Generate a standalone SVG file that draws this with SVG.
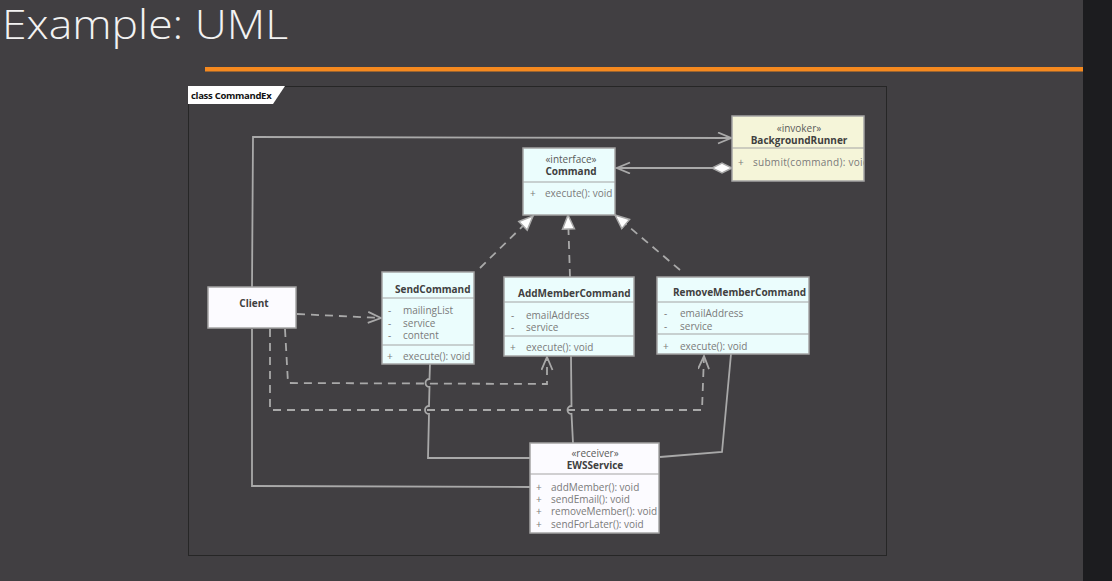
<svg xmlns="http://www.w3.org/2000/svg" width="1112" height="581" viewBox="0 0 1112 581">
<style>
.t{font-family:"Open Sans","Noto Sans","Liberation Sans",sans-serif;font-size:10px;fill:#7a7a7a}
.b{font-family:"Open Sans","Noto Sans","Liberation Sans",sans-serif;font-size:10px;font-weight:bold;fill:#404040}
.s{font-family:"Open Sans","Noto Sans","Liberation Sans",sans-serif;font-size:10px;fill:#5a5a5a}
.box{stroke:#a4a4a4;stroke-width:1.5}
.cyan{fill:#ebfdfd}
.sep{stroke:#a4a4a4;stroke-width:1.2}
.ln{fill:none;stroke:#a9a9a9;stroke-width:1.8}
.ds{fill:none;stroke:#a9a9a9;stroke-width:1.8;stroke-dasharray:8,6}
</style>
<defs>
<marker id="open" markerUnits="userSpaceOnUse" markerWidth="16" markerHeight="14" refX="14" refY="6" orient="auto">
<path d="M1,0.5 L14,6 L1,11.5" fill="none" stroke="#a9a9a9" stroke-width="1.8"/>
</marker>
<marker id="tri" markerUnits="userSpaceOnUse" markerWidth="18" markerHeight="16" refX="15" refY="7" orient="auto">
<path d="M1,1 L15,7 L1,13 z" fill="#ffffff" stroke="#a9a9a9" stroke-width="1.5"/>
</marker>
<marker id="dia" markerUnits="userSpaceOnUse" markerWidth="24" markerHeight="14" refX="1" refY="6" orient="auto">
<path d="M1,6 L11,1 L21,6 L11,11 z" fill="#ffffff" stroke="#a9a9a9" stroke-width="1.5"/>
</marker>
<clipPath id="cCmd"><rect x="523" y="148" width="92" height="67"/></clipPath>
<clipPath id="cBR"><rect x="732" y="116" width="132" height="65"/></clipPath>
<clipPath id="cEWS"><rect x="530" y="443" width="129" height="91"/></clipPath>
</defs>
<rect width="1112" height="581" fill="#413f42"/>
<rect x="1083" y="0" width="29" height="581" fill="#1c1c1f"/>
<text x="2" y="39" font-family="'Open Sans','Noto Sans',sans-serif" font-size="40" font-weight="300" fill="#f2f2f2" textLength="286" lengthAdjust="spacingAndGlyphs">Example: UML</text>
<rect x="205" y="67" width="878" height="4.5" fill="#f5891f"/>
<g id="frame">
<rect x="188.5" y="86.5" width="698" height="469" fill="none" stroke="#262626" stroke-width="1"/>
<polygon points="188,86 285,86 273,104 188,104" fill="#ffffff"/>
<text x="191" y="99" font-family="'Open Sans','Noto Sans',sans-serif" font-size="9.5" font-weight="bold" fill="#111" letter-spacing="-0.3">class CommandEx</text>
</g>
<g id="connectors">
<path class="ln" d="M252,287 L253,137 L731,138" marker-end="url(#open)"/>
<path class="ln" d="M732,168 L617,168" marker-start="url(#dia)" marker-end="url(#open)"/>
<path class="ds" d="M480,268 L533,216" marker-end="url(#tri)"/>
<path class="ds" d="M570,277 L568,215" marker-end="url(#tri)"/>
<path class="ds" d="M680,270 L615,215" marker-end="url(#tri)"/>
<path class="ds" d="M297,314 L381,318" marker-end="url(#open)"/>
<path class="ds" d="M285,329 L288,383 L547,384 L547,357" marker-end="url(#open)"/>
<path class="ds" d="M270,329 L270,410 L702,410 L704,356" marker-end="url(#open)"/>
<path class="ln" d="M430,364 L429.5,379 A4,4 0 0 0 429.5,387 L429,406 A4,4 0 0 0 429,414 L428,458 L530,458"/>
<path class="ln" d="M571,356 L571.5,406 A4,4 0 0 0 571.5,414 L573,443"/>
<path class="ln" d="M731,354 L722,452 L660,457"/>
<path class="ln" d="M252,329 L252,486 L530,487"/>
</g>
<g id="BackgroundRunner">
<rect class="box" x="732" y="116" width="132" height="65" fill="#f5f5d9"/>
<line class="sep" x1="732" y1="148" x2="864" y2="148"/>
<g clip-path="url(#cBR)">
<text class="s" x="799" y="132" text-anchor="middle">«invoker»</text>
<text class="b" x="799" y="144" text-anchor="middle">BackgroundRunner</text>
<text class="t" x="738" y="166">+</text>
<text class="t" x="753" y="166" textLength="116">submit(command): void</text>
</g>
</g>
<g id="Command">
<rect class="box cyan" x="523" y="148" width="92" height="67"/>
<line class="sep" x1="523" y1="182" x2="615" y2="182"/>
<g clip-path="url(#cCmd)">
<text class="s" x="571" y="163" text-anchor="middle">«interface»</text>
<text class="b" x="571" y="175" text-anchor="middle">Command</text>
<text class="t" x="530" y="197">+</text>
<text class="t" x="545" y="197">execute(): void</text>
</g>
</g>
<g id="SendCommand">
<rect class="box cyan" x="382" y="272" width="92" height="92"/>
<line class="sep" x1="382" y1="298" x2="474" y2="298"/>
<line class="sep" x1="382" y1="345" x2="474" y2="345"/>
<text class="b" x="395" y="293">SendCommand</text>
<text class="t" x="388" y="314">-</text><text class="t" x="403" y="314">mailingList</text>
<text class="t" x="388" y="327">-</text><text class="t" x="403" y="327">service</text>
<text class="t" x="388" y="339">-</text><text class="t" x="403" y="339">content</text>
<text class="t" x="387" y="360">+</text><text class="t" x="403" y="360">execute(): void</text>
</g>
<g id="AddMemberCommand">
<rect class="box cyan" x="504" y="277" width="130" height="79"/>
<line class="sep" x1="504" y1="302" x2="634" y2="302"/>
<line class="sep" x1="504" y1="336" x2="634" y2="336"/>
<text class="b" x="518" y="297">AddMemberCommand</text>
<text class="t" x="511" y="319">-</text><text class="t" x="526" y="319">emailAddress</text>
<text class="t" x="511" y="331">-</text><text class="t" x="526" y="331">service</text>
<text class="t" x="510" y="351">+</text><text class="t" x="526" y="351">execute(): void</text>
</g>
<g id="RemoveMemberCommand">
<rect class="box cyan" x="657" y="277" width="152" height="77"/>
<line class="sep" x1="657" y1="302" x2="809" y2="302"/>
<line class="sep" x1="657" y1="334" x2="809" y2="334"/>
<text class="b" x="673" y="296">RemoveMemberCommand</text>
<text class="t" x="664" y="317">-</text><text class="t" x="680" y="317">emailAddress</text>
<text class="t" x="664" y="330">-</text><text class="t" x="680" y="330">service</text>
<text class="t" x="663" y="350">+</text><text class="t" x="680" y="350">execute(): void</text>
</g>
<g id="Client">
<rect class="box" x="208" y="287" width="88" height="41" fill="#fcfbff"/>
<text class="b" x="254" y="307" text-anchor="middle">Client</text>
</g>
<g id="EWSService">
<rect class="box" x="530" y="443" width="129" height="90" fill="#fcfbff"/>
<line class="sep" x1="530" y1="474" x2="659" y2="474"/>
<g clip-path="url(#cEWS)">
<text class="s" x="595" y="457" text-anchor="middle">«receiver»</text>
<text class="b" x="595" y="469" text-anchor="middle">EWSService</text>
<text class="t" x="536" y="491">+</text><text class="t" x="551" y="491">addMember(): void</text>
<text class="t" x="536" y="503">+</text><text class="t" x="551" y="503">sendEmail(): void</text>
<text class="t" x="536" y="515">+</text><text class="t" x="551" y="515">removeMember(): void</text>
<text class="t" x="536" y="528">+</text><text class="t" x="551" y="528">sendForLater(): void</text>
</g>
</g>
</svg>
